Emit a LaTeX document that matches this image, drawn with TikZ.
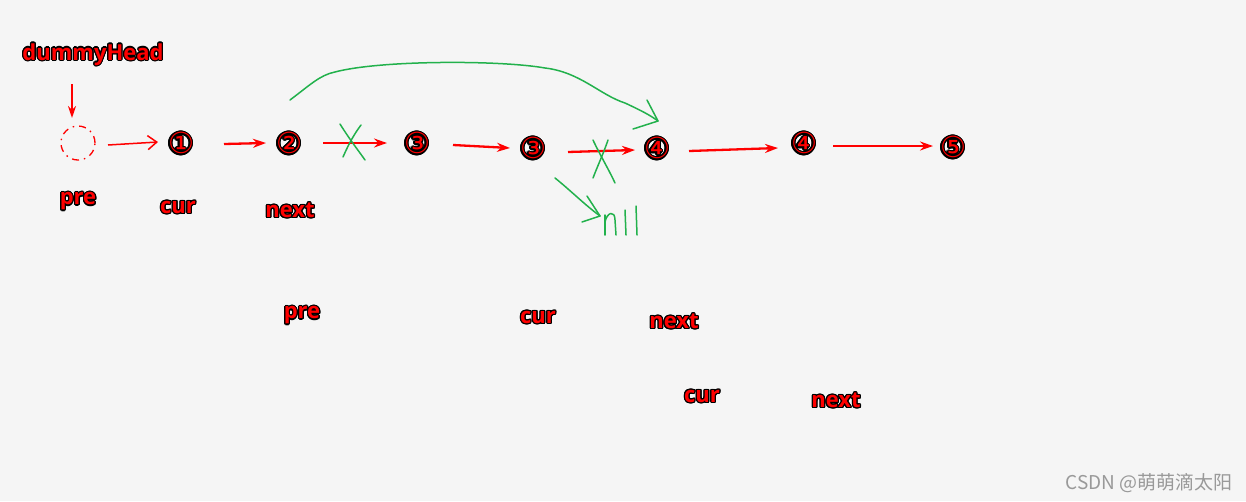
\documentclass[tikz,border=0pt]{standalone}
\usepackage{fontspec}
\setmainfont{Open Sans}
\newfontfamily\dejavu{DejaVu Sans}
\newfontfamily\cjk{Noto Sans CJK SC}
\usepackage[copies]{contour}
\contourlength{1.2pt}
\usetikzlibrary{arrows.meta,calc}
\definecolor{bg}{HTML}{F5F5F5}
\definecolor{pen}{HTML}{22B14C}
\tikzset{
  lbl/.style={font=\fontsize{22}{22}\selectfont\bfseries, text=red, inner sep=0pt, yshift=-4pt},
  num/.style={font=\dejavu\fontsize{29}{29}\selectfont, text=red, inner sep=0pt},
  link/.style={draw=red, line width=2.3pt, -{Stealth[length=13pt,width=9pt]}},
  green/.style={draw=pen, line width=1.5pt, line cap=round, line join=round},
}
\newcommand{\ol}[1]{\contour{black}{#1}}
\begin{document}
\begin{tikzpicture}[x=1pt,y=-1pt]
\fill[bg] (0,0) rectangle (1246,501);
\useasboundingbox (0,0) rectangle (1246,501);

% labels
\node[lbl] (dh) at (93,51) {\ol{dummyHead}};
\node[lbl] (pre1) at (78,198) {\ol{pre}};
\node[lbl] (cur1) at (178,204) {\ol{cur}};
\node[lbl] (next1) at (290,207) {\ol{next}};
\node[lbl] (pre2) at (302,312) {\ol{pre}};
\node[lbl] (cur2) at (538,314) {\ol{cur}};
\node[lbl] (next2) at (674,318) {\ol{next}};
\node[lbl] (cur3) at (702,393) {\ol{cur}};
\node[lbl] (next3) at (836,397) {\ol{next}};

% dummy node
\node[draw=red, circle, minimum size=34pt, line width=1.3pt, dash pattern=on 7pt off 5pt on 1.5pt off 5pt, inner sep=0pt] (d) at (78,143) {};
\coordinate (dtop) at (72,84);
\draw[draw=red, line width=2pt, -{Stealth[length=12pt,width=8pt]}] (dtop) -- (72,118);

% list nodes
\node[num] (n1) at (181,144) {\ol{①}};
\node[num] (n2) at (289,144) {\ol{②}};
\node[num] (n3) at (417,144) {\ol{③}};
\node[num] (n3b) at (533,149) {\ol{③}};
\node[num] (n4) at (657,149) {\ol{④}};
\node[num] (n4b) at (804,144) {\ol{④}};
\node[num] (n5) at (953,148) {\ol{⑤}};

% connectors
\draw[draw=red, line width=1.5pt, -{Straight Barb[length=9pt,width=14pt]}] ($(d)+(30,2)$) -- ($(n1)+(-23,-2)$);
\draw[link] ($(n1)+(43,0)$) -- ($(n2)+(-23,-1)$);
\draw[link] ($(n2)+(34,-1)$) -- ($(n3)+(-30,-1)$);
\draw[link] ($(n3)+(36,1)$) -- ($(n3b)+(-23,-1)$);
\draw[link] ($(n3b)+(35,3)$) -- ($(n4)+(-22,1)$);
\draw[link] ($(n4)+(32,2)$) -- ($(n4b)+(-26,4)$);
\draw[link] ($(n4b)+(29,2)$) -- ($(n5)+(-20,-2)$);

% green curve next -> 4
\coordinate (gs) at (290,100);
\coordinate (ge) at (658,121);
\draw[green] (gs) .. controls (310,85) and (320,75) .. (335,72)
  .. controls (380,60) and (500,60) .. (545,68)
  .. controls (580,72) and (600,95) .. (625,103)
  .. controls (640,110) and (650,115) .. (ge);
\draw[green] (647,100) -- (ge) -- (633,129);

% green X marks
\draw[green] (340,124) .. controls (350,140) and (358,150) .. (365,160);
\draw[green] (361,125) .. controls (352,137) and (347,148) .. (343,157);
\draw[green] (593,140) .. controls (600,155) and (608,168) .. (615,183);
\draw[green] (608,140) .. controls (604,152) and (598,165) .. (593,178);

% green arrow to null
\coordinate (ns) at (555,178);
\coordinate (ne) at (600,216);
\draw[green] (ns) .. controls (570,190) and (585,205) .. (ne);
\draw[green] (587,196) -- (ne) -- (582,222);
\draw[green] (605,215) -- (605,235);
\draw[green] (605,222) .. controls (607,212) and (615,210) .. (615,220) -- (616,235);
\draw[green] (625,210) -- (626,235);
\draw[green] (636,206) -- (637,235);

% watermark
\node[font=\cjk\fontsize{19}{19}\selectfont, text=black!40, anchor=east, inner sep=0pt] (wm) at (1233,483) {CSDN @萌萌滴太阳};
\end{tikzpicture}
\end{document}
